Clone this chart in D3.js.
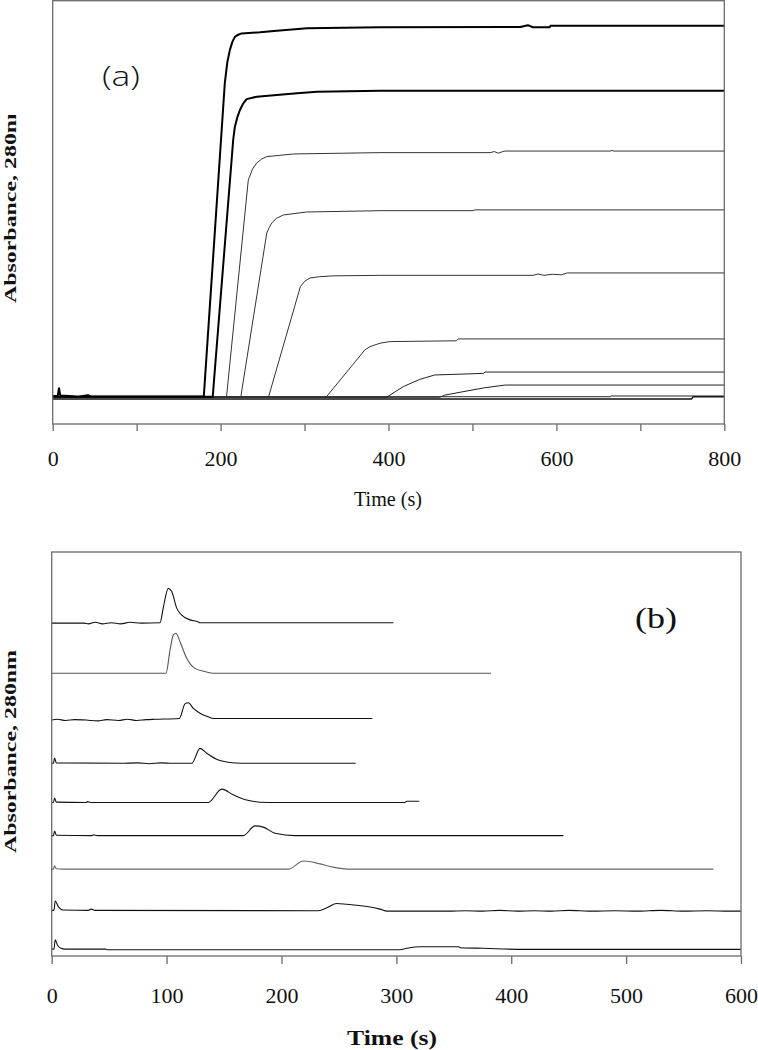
<!DOCTYPE html>
<html lang="en">
<head>
<meta charset="UTF-8" />
<title>Absorbance at 280 nm vs time, panels (a) and (b)</title>
<style>
  body { margin: 0; background: #fff; }
  svg { display: block; background: #fff; }
  .frame { fill: none; stroke: #6b6b6b; stroke-width: 1.3; }
  .axis path { display: none; }
  .axis line { stroke: #6b6b6b; stroke-width: 1.3; }
  .trace { fill: none; stroke-linejoin: round; stroke-linecap: butt; }
</style>
</head>
<body>
<svg id="chart" width="758" height="1050" viewBox="0 0 758 1050"></svg>

<script src="https://d3js.org/d3.v7.min.js"></script>
<script>
// ---- data: [time (s), absorbance] ----
// panel (a): breakthrough curves
const runA1 = [[0,0.006],[6,0.006],[7.5,0.035],[9,0.008],[20,0.006],[30,0.003],[42,0.009],[45,0.004],[180,0.004],[205,1.186],[208,1.265],[211,1.311],[214,1.342],[217,1.361],[221,1.369],[225,1.374],[247,1.378],[267,1.384],[303,1.393],[390,1.397],[557,1.398],[566,1.405],[572,1.397],[592,1.397],[593,1.403],[800,1.403]];
const runA2 = [[0,0.003],[190.6,0.003],[215,0.972],[217,1.022],[220,1.058],[223,1.085],[227,1.110],[231,1.126],[243,1.135],[291,1.148],[315,1.154],[390,1.158],[800,1.158]];
const runA3 = [[0,0.001],[207,0.001],[233,0.821],[238,0.862],[243,0.885],[249,0.900],[255,0.909],[287,0.919],[390,0.924],[521,0.924],[526,0.928],[531,0.922],[536,0.928],[539,0.930],[665,0.930],[666,0.934],[667,0.930],[800,0.930]];
const runA4 = [[0,0.001],[224,0.001],[255,0.621],[258,0.642],[261,0.659],[267,0.677],[275,0.689],[302.5,0.700],[390,0.705],[501,0.705],[503,0.708],[800,0.708]];
const runA5 = [[0,0.001],[257,0.001],[295,0.418],[300,0.438],[306.5,0.451],[318,0.456],[334,0.459],[390,0.461],[572,0.461],[578,0.466],[585,0.461],[595,0.465],[606,0.463],[613,0.470],[800,0.470]];
const runA6 = [[0,0.001],[325.6,0.001],[372,0.180],[378,0.192],[390,0.205],[402,0.211],[481,0.214],[483,0.221],[800,0.221]];
const runA7 = [[0,0.001],[397.8,0.001],[417.6,0.041],[437,0.068],[455,0.085],[513,0.091],[515,0.096],[800,0.096]];
const runA8 = [[0,0.001],[461,0.001],[467,0.009],[513,0.036],[539,0.047],[800,0.047]];
const runA9 = [[0,0.003],[664,0.003],[665,0.0057],[800,0.0057]];
const runA10 = [[0,-0.0057],[761,-0.0057],[763,0.003],[800,0.003]];

// panel (b): pulse responses, stacked
const pulseB1 = [[0,0.824],[28,0.824],[32,0.822],[38,0.826],[44,0.822],[52,0.825],[60,0.822],[68,0.826],[78,0.824],[94.3,0.825],[97.1,0.862],[101.5,0.910],[104.5,0.902],[108.8,0.861],[113.2,0.844],[120.4,0.832],[127.6,0.827],[129,0.825],[297.4,0.825]];
const pulseB2 = [[0,0.700],[99.5,0.700],[103,0.757],[105.9,0.795],[108.2,0.799],[111.7,0.778],[117.5,0.737],[124.7,0.712],[133.4,0.704],[140.7,0.700],[382.4,0.700]];
const pulseB3 = [[0,0.584],[5,0.586],[12,0.583],[20,0.585],[30,0.584],[40,0.582],[48,0.585],[58,0.583],[66,0.586],[74,0.583],[82,0.585],[90,0.586],[111.1,0.588],[116,0.624],[118.9,0.627],[123.3,0.613],[129.1,0.601],[136.3,0.592],[140.7,0.588],[279.1,0.588]];
const pulseB4 = [[0,0.477],[1.5,0.477],[2.5,0.490],[4,0.478],[60,0.477],[75,0.478],[85,0.476],[95,0.478],[105,0.477],[121.9,0.477],[129.1,0.514],[134.9,0.502],[143.6,0.487],[155.2,0.479],[165,0.477],[264.6,0.477]];
const pulseB5 = [[0,0.380],[1.5,0.380],[2.5,0.391],[4,0.381],[30,0.380],[31,0.382],[34,0.380],[136.3,0.380],[148,0.413],[158,0.399],[169.7,0.386],[187.2,0.380],[307.5,0.380],[309,0.383],[320,0.383]];
const pulseB6 = [[0,0.298],[1.5,0.298],[2.5,0.309],[4,0.299],[35,0.298],[36,0.300],[40,0.298],[166.8,0.298],[177,0.322],[184.2,0.319],[194.4,0.304],[211.8,0.298],[445.4,0.298]];
const pulseB7 = [[0,0.215],[1.5,0.215],[2.5,0.223],[4,0.216],[10,0.215],[206,0.215],[219,0.235],[224,0.234],[233.6,0.228],[245,0.220],[259.7,0.215],[575.9,0.215]];
const pulseB8 = [[0,0.113],[2,0.113],[3,0.136],[6,0.121],[10,0.114],[32,0.113],[34,0.116],[38,0.113],[232,0.112],[240,0.120],[248,0.130],[256.7,0.128],[285.8,0.116],[292,0.111],[345,0.111],[360,0.112],[375,0.111],[390,0.113],[405,0.111],[420,0.112],[435,0.111],[450,0.113],[470,0.111],[490,0.112],[510,0.111],[530,0.113],[550,0.111],[570,0.112],[590,0.111],[600,0.111]];
const pulseB9 = [[0,0.017],[2,0.017],[3,0.040],[5,0.027],[8,0.019],[12,0.017],[47,0.017],[48,0.0155],[303,0.0155],[309,0.019],[320.6,0.023],[353.9,0.023],[356,0.0205],[375.7,0.019],[410,0.0165],[600,0.0165]];

const ticksA = d3.range(0, 801, 100);
const labelsA = [0, 200, 400, 600, 800];
const ticksB = d3.range(0, 601, 100);

const serif = "'Liberation Serif', 'Times New Roman', serif";
const svg = d3.select("#chart");

function styleTicks(g) {
  g.selectAll(".tick text")
    .style("font-family", serif)
    .style("font-size", "22px")
    .style("fill", "#111");
}

// ---- panel (a) ----
const xA = d3.scaleLinear().domain([0, 800]).range([52.7, 724.3]);
const yA = d3.scaleLinear().domain([-0.1, 1.5]).range([424, 0]);
const lineA = d3.line().x(d => xA(d[0])).y(d => yA(d[1]));

const gA = svg.append("g");

const seriesA = [
  { data: runA10, w: 1.4, c: "#111" },
  { data: runA9, w: 1, c: "#222" },
  { data: runA8, w: 1, c: "#222" },
  { data: runA7, w: 1, c: "#222" },
  { data: runA6, w: 1, c: "#333" },
  { data: runA5, w: 1, c: "#333" },
  { data: runA4, w: 1, c: "#333" },
  { data: runA3, w: 1, c: "#333" },
  { data: runA2, w: 2, c: "#000" },
  { data: runA1, w: 2, c: "#000" }
];
gA.selectAll("path.trace")
  .data(seriesA)
  .enter().append("path")
  .attr("class", "trace")
  .attr("d", s => lineA(s.data))
  .attr("stroke", s => s.c)
  .attr("stroke-width", s => s.w);

gA.append("rect").attr("class", "frame")
  .attr("x", xA(0)).attr("y", 0.7)
  .attr("width", xA(800) - xA(0)).attr("height", 424 - 0.7);

gA.append("g").attr("class", "axis")
  .attr("transform", "translate(0,424)")
  .call(d3.axisBottom(xA).tickValues(ticksA).tickSize(7).tickPadding(19)
    .tickFormat(d => labelsA.includes(d) ? d : ""))
  .call(styleTicks);

gA.append("text")
  .attr("x", 102).attr("y", 86)
  .attr("textLength", 38).attr("lengthAdjust", "spacingAndGlyphs")
  .style("font-family", "'Open Sans', Lato, sans-serif")
  .style("font-weight", "300")
  .style("font-size", "27px").style("fill", "#111")
  .text("(a)");

gA.append("text")
  .attr("x", 388).attr("y", 506)
  .attr("text-anchor", "middle")
  .attr("textLength", 68).attr("lengthAdjust", "spacingAndGlyphs")
  .style("font-family", serif)
  .style("font-size", "20px").style("fill", "#111")
  .text("Time (s)");

// y label of (a) is cut off in the original, keep the clip
const defs = svg.append("defs");
defs.append("clipPath").attr("id", "clipLabelA")
  .append("rect").attr("x", 0).attr("y", 115).attr("width", 40).attr("height", 205);

gA.append("g").attr("clip-path", "url(#clipLabelA)")
  .append("text")
  .attr("transform", "translate(15.5,303) rotate(-90)")
  .attr("textLength", 203).attr("lengthAdjust", "spacingAndGlyphs")
  .style("font-family", serif)
  .style("font-weight", "bold")
  .style("font-size", "17px").style("fill", "#111")
  .text("Absorbance, 280nm");

// ---- panel (b) ----
const xB = d3.scaleLinear().domain([0, 600]).range([51.7, 741]);
const yB = d3.scaleLinear().domain([0, 1]).range([956, 552]);
const lineB = d3.line().x(d => xB(d[0])).y(d => yB(d[1])).curve(d3.curveMonotoneX);

const gB = svg.append("g");

const seriesB = [
  { data: pulseB1, c: "#111" },
  { data: pulseB2, c: "#555" },
  { data: pulseB3, c: "#111" },
  { data: pulseB4, c: "#111" },
  { data: pulseB5, c: "#111" },
  { data: pulseB6, c: "#111" },
  { data: pulseB7, c: "#666" },
  { data: pulseB8, c: "#111" },
  { data: pulseB9, c: "#111" }
];
gB.selectAll("path.trace")
  .data(seriesB)
  .enter().append("path")
  .attr("class", "trace")
  .attr("d", s => lineB(s.data))
  .attr("stroke", s => s.c)
  .attr("stroke-width", 1.1);

gB.append("rect").attr("class", "frame")
  .attr("x", xB(0)).attr("y", 552)
  .attr("width", xB(600) - xB(0)).attr("height", 956 - 552);

gB.append("g").attr("class", "axis")
  .attr("transform", "translate(0,956)")
  .call(d3.axisBottom(xB).tickValues(ticksB).tickSize(8).tickPadding(23))
  .call(styleTicks);

gB.append("text")
  .attr("x", 656).attr("y", 628)
  .attr("text-anchor", "middle")
  .attr("textLength", 42).attr("lengthAdjust", "spacingAndGlyphs")
  .style("font-family", serif)
  .style("font-size", "30px").style("fill", "#111")
  .text("(b)");

gB.append("text")
  .attr("x", 392).attr("y", 1045)
  .attr("text-anchor", "middle")
  .attr("textLength", 90).attr("lengthAdjust", "spacingAndGlyphs")
  .style("font-family", serif)
  .style("font-weight", "bold")
  .style("font-size", "22px").style("fill", "#111")
  .text("Time (s)");

gB.append("text")
  .attr("transform", "translate(15.5,853) rotate(-90)")
  .attr("textLength", 203).attr("lengthAdjust", "spacingAndGlyphs")
  .style("font-family", serif)
  .style("font-weight", "bold")
  .style("font-size", "17px").style("fill", "#111")
  .text("Absorbance, 280nm");
</script>
</body>
</html>
